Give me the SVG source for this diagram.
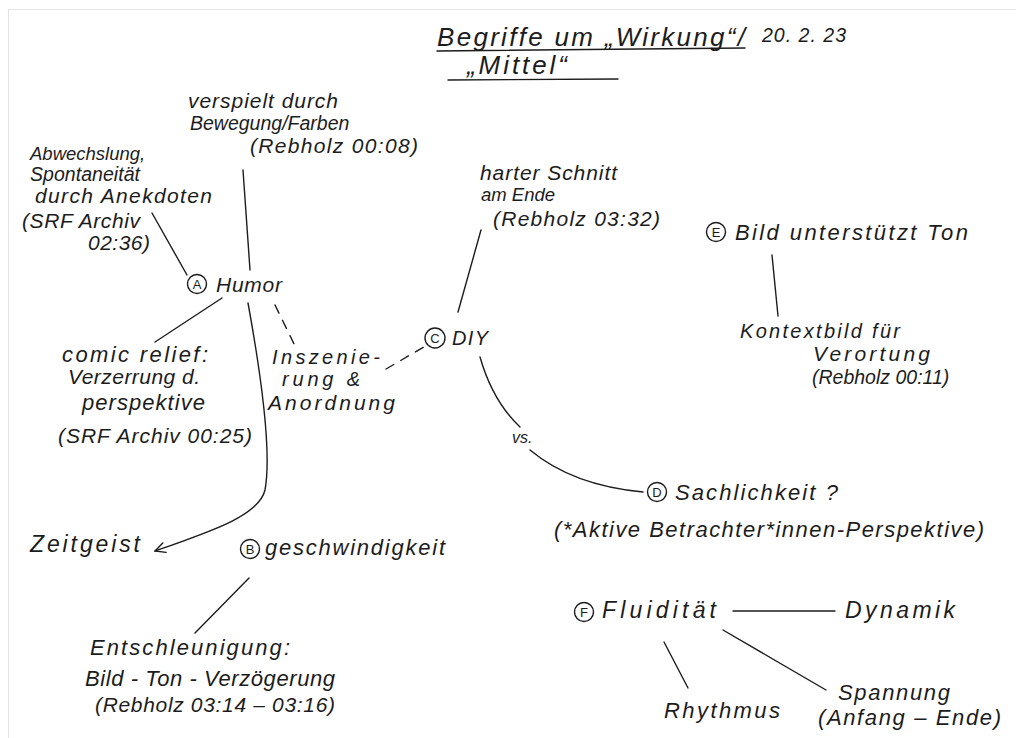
<svg xmlns="http://www.w3.org/2000/svg" width="1016" height="738" viewBox="0 0 1016 738">
<defs>
<style>
text{font-family:"Liberation Sans","DejaVu Sans",sans-serif;font-style:italic;fill:#1c1c1c;font-size:22px}
.t{font-size:26px}
.s18{font-size:18.5px}
.s19{font-size:19.5px}
.s20{font-size:20px}
.s21{font-size:21px}
.s23{font-size:23px}
.c{fill:none;stroke:#1c1c1c;stroke-width:1.4}
.lt{font-style:normal;font-size:13px;text-anchor:middle}
.ln{fill:none;stroke:#1c1c1c;stroke-width:1.4;stroke-linecap:round}
.ds{stroke-dasharray:9 8}
.bd{stroke:#e4e4e4;stroke-width:1.2;fill:none}
</style>
<marker id="ah" viewBox="0 0 12 12" refX="11" refY="6" markerWidth="12" markerHeight="12" markerUnits="userSpaceOnUse" orient="auto">
<path d="M1,1 L11,6 L1,11" fill="none" stroke="#1c1c1c" stroke-width="1.4" stroke-linecap="round"/>
</marker>
</defs>
<rect width="1016" height="738" fill="#fff"/>
<path class="bd" d="M8.5,738 V9.5 H1016"/>

<g id="title">
<text class="t" x="437" y="46" textLength="308" lengthAdjust="spacing">Begriffe um „Wirkung“/</text>
<text class="s19" x="762" y="42" textLength="84" lengthAdjust="spacing">20. 2. 23</text>
<text class="t" x="467" y="74" textLength="100" lengthAdjust="spacing">„Mittel“</text>
<path class="ln" d="M437,51 L745,48"/>
<path class="ln" d="M448,80 L618,79"/>
</g>

<g id="connectors">
<path class="ln" d="M243,170 L250,270"/>
<path class="ln" d="M152,213 L187,275"/>
<path class="ln" d="M222,298 L155,342"/>
<path class="ln" d="M248,303 C262,380 272,452 265,490 C259,515 215,530 155,551" marker-end="url(#ah)"/>
<path class="ln ds" d="M275,305 L297,350"/>
<path class="ln ds" d="M386,369 L424,347"/>
<path class="ln" d="M458,312 L481,230"/>
<path class="ln" d="M480,357 C488,385 502,410 520,427"/>
<path class="ln" d="M530,450 C560,475 600,488 643,492"/>
<path class="ln" d="M772,255 L778,316"/>
<path class="ln" d="M249,578 L195,633"/>
<path class="ln" d="M733,611 L835,611"/>
<path class="ln" d="M664,642 L688,688"/>
<path class="ln" d="M723,630 L826,690"/>
</g>

<g id="verspielt">
<text class="s21" x="188" y="108" textLength="150" lengthAdjust="spacing">verspielt durch</text>
<text class="s19" x="190" y="130">Bewegung/Farben</text>
<text class="s21" x="250" y="153" textLength="168" lengthAdjust="spacing">(Rebholz 00:08)</text>
</g>
<g id="abwechslung">
<text class="s18" x="30" y="160">Abwechslung,</text>
<text class="s19" x="30" y="181" textLength="110" lengthAdjust="spacing">Spontaneität</text>
<text class="s21" x="35" y="203" textLength="177" lengthAdjust="spacing">durch Anekdoten</text>
<text class="s21" x="22" y="228" textLength="118" lengthAdjust="spacing">(SRF Archiv</text>
<text class="s21" x="88" y="250" textLength="62" lengthAdjust="spacing">02:36)</text>
</g>
<g id="nodeA">
<circle class="c" cx="197" cy="284" r="9.5"/>
<text class="lt" x="197" y="288.5">A</text>
<text class="s21" x="216" y="292" textLength="66" lengthAdjust="spacing">Humor</text>
</g>
<g id="comic">
<text x="62" y="362" textLength="146" lengthAdjust="spacing">comic relief:</text>
<text class="s21" x="68" y="384" textLength="132" lengthAdjust="spacing">Verzerrung d.</text>
<text x="82" y="410" textLength="123" lengthAdjust="spacing">perspektive</text>
<text class="s21" x="58" y="443" textLength="194" lengthAdjust="spacing">(SRF Archiv 00:25)</text>
</g>
<g id="inszenierung">
<text class="s20" x="272" y="364" textLength="108" lengthAdjust="spacing">Inszenie-</text>
<text class="s20" x="282" y="386" textLength="78" lengthAdjust="spacing">rung &amp;</text>
<text class="s21" x="268" y="410" textLength="127" lengthAdjust="spacing">Anordnung</text>
</g>
<g id="nodeC">
<circle class="c" cx="435" cy="338" r="10"/>
<text class="lt" x="435" y="342.5">C</text>
<text class="s20" x="452" y="345" textLength="36" lengthAdjust="spacing">DIY</text>
</g>
<g id="harter">
<text class="s21" x="480" y="180" textLength="137" lengthAdjust="spacing">harter Schnitt</text>
<text class="s18" x="481" y="201">am Ende</text>
<text class="s21" x="493" y="226" textLength="167" lengthAdjust="spacing">(Rebholz 03:32)</text>
</g>
<g id="nodeE">
<circle class="c" cx="716" cy="232" r="9.5"/>
<text class="lt" x="716" y="236.5">E</text>
<text x="735" y="240" textLength="233" lengthAdjust="spacing">Bild unterstützt Ton</text>
</g>
<g id="kontext">
<text class="s20" x="740" y="338" textLength="160" lengthAdjust="spacing">Kontextbild für</text>
<text class="s21" x="813" y="361" textLength="117" lengthAdjust="spacing">Verortung</text>
<text class="s19" x="812" y="384">(Rebholz 00:11)</text>
</g>
<g id="vs">
<text x="512" y="443" style="font-size:16px">vs.</text>
</g>
<g id="nodeD">
<circle class="c" cx="657" cy="492" r="9.5"/>
<text class="lt" x="657" y="496.5">D</text>
<text x="675" y="500" textLength="163" lengthAdjust="spacing">Sachlichkeit ?</text>
<text x="554" y="537" textLength="430" lengthAdjust="spacing">(*Aktive Betrachter*innen-Perspektive)</text>
</g>
<g id="zeitgeist">
<text class="s23" x="30" y="552" textLength="110" lengthAdjust="spacing">Zeitgeist</text>
</g>
<g id="nodeB">
<circle class="c" cx="250" cy="549" r="9.5"/>
<text class="lt" x="250" y="553.5">B</text>
<text x="265" y="555" textLength="180" lengthAdjust="spacing">geschwindigkeit</text>
</g>
<g id="entschleunigung">
<text x="90" y="655" textLength="200" lengthAdjust="spacing">Entschleunigung:</text>
<text x="85" y="686" textLength="250" lengthAdjust="spacing">Bild - Ton - Verzögerung</text>
<text class="s21" x="95" y="712" textLength="240" lengthAdjust="spacing">(Rebholz 03:14 – 03:16)</text>
</g>
<g id="nodeF">
<circle class="c" cx="584" cy="612" r="9.5"/>
<text class="lt" x="584" y="616.5">F</text>
<text class="s23" x="602" y="618" textLength="114" lengthAdjust="spacing">Fluidität</text>
</g>
<g id="dynamik"><text class="s23" x="845" y="618" textLength="110" lengthAdjust="spacing">Dynamik</text></g>
<g id="rhythmus"><text x="664" y="718" textLength="116" lengthAdjust="spacing">Rhythmus</text></g>
<g id="spannung">
<text x="838" y="700" textLength="112" lengthAdjust="spacing">Spannung</text>
<text x="818" y="725" textLength="183" lengthAdjust="spacing">(Anfang – Ende)</text>
</g>
</svg>
